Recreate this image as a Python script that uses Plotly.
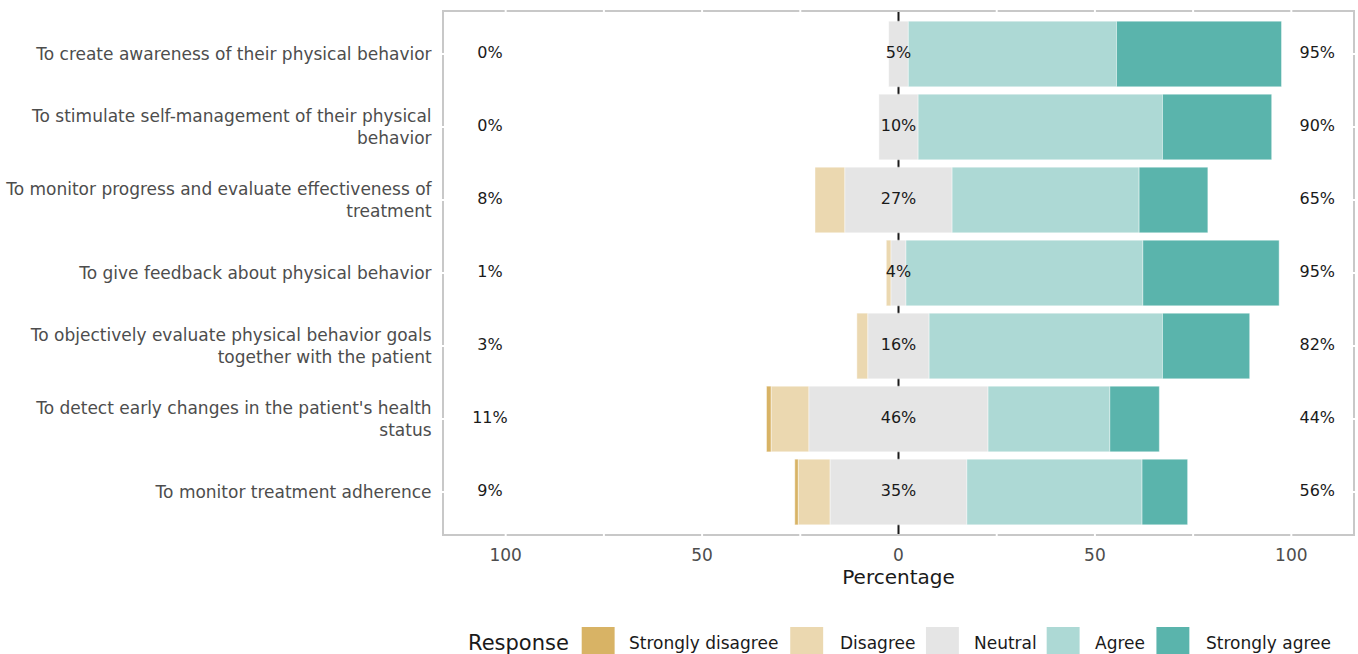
import plotly.graph_objects as go

items = [
    "To create awareness of their physical behavior",
    "To stimulate self-management of their physical<br>behavior",
    "To monitor progress and evaluate effectiveness of<br>treatment",
    "To give feedback about physical behavior",
    "To objectively evaluate physical behavior goals<br>together with the patient",
    "To detect early changes in the patient's health<br>status",
    "To monitor treatment adherence",
]
strongly_disagree = [0, 0, 0, 0, 0, 1.2, 0.9]
disagree = [0, 0, 7.6, 1.2, 2.8, 9.6, 8.1]
neutral = [5, 10, 27.3, 3.8, 15.6, 45.6, 34.8]
agree = [53, 62.2, 47.6, 60.3, 59.4, 31.0, 44.6]
strongly_agree = [42, 27.8, 17.5, 34.7, 22.2, 12.6, 11.6]

responses = ["Strongly disagree", "Disagree", "Neutral", "Agree", "Strongly agree"]
colors = ["#D8B365", "#EBD8B0", "#E5E5E5", "#ADD9D5", "#5AB4AC"]
tick_vals = [-100, -50, 0, 50, 100]
tick_text = ["100", "50", "0", "50", "100"]
grid_x = [-100, -75, -50, -25, 25, 50, 75, 100]

FONT = "DejaVu Sans"

# bases
n_base = [-n / 2 for n in neutral]
d_base = [b - d for b, d in zip(n_base, disagree)]
sd_base = [b - s for b, s in zip(d_base, strongly_disagree)]
a_base = [n / 2 for n in neutral]
sa_base = [b + a for b, a in zip(a_base, agree)]

fig = go.Figure()
series = [
    (strongly_disagree, sd_base, colors[0]),
    (disagree, d_base, colors[1]),
    (neutral, n_base, colors[2]),
    (agree, a_base, colors[3]),
    (strongly_agree, sa_base, colors[4]),
]
for (vals, base, col), name in zip(series, responses):
    fig.add_trace(go.Bar(
        y=items, x=vals, base=base, orientation="h", name=name,
        marker=dict(color=col, line=dict(color="rgba(255,255,255,0.7)", width=0.6)),
        width=0.9, showlegend=False, hoverinfo="skip",
    ))

low = [s + d for s, d in zip(strongly_disagree, disagree)]
high = [a + s for a, s in zip(agree, strongly_agree)]
txt_font = dict(family=FONT, size=16, color="#1A1A1A")
fig.add_trace(go.Scatter(y=items, x=[-104] * len(items), mode="text",
                         text=[f"{round(v)}%" for v in low], textfont=txt_font,
                         showlegend=False, hoverinfo="skip"))
fig.add_trace(go.Scatter(y=items, x=[0] * len(items), mode="text",
                         text=[f"{round(v)}%" for v in neutral], textfont=txt_font,
                         showlegend=False, hoverinfo="skip"))
fig.add_trace(go.Scatter(y=items, x=[106.6] * len(items), mode="text",
                         text=[f"{round(v)}%" for v in high], textfont=txt_font,
                         showlegend=False, hoverinfo="skip"))

# zero line behind bars
fig.add_shape(type="line", xref="x", yref="paper", x0=0, x1=0, y0=0, y1=1,
              line=dict(color="#1A1A1A", width=2), layer="below")

# white grid breaks on the panel border
for gx in grid_x:
    for y0, y1 in [(-0.006, 0.006), (0.994, 1.006)]:
        fig.add_shape(type="line", xref="x", yref="paper", x0=gx, x1=gx, y0=y0, y1=y1,
                      line=dict(color="white", width=2), layer="above")
for it in items:
    for x0, x1 in [(-0.004, 0.004), (0.996, 1.004)]:
        fig.add_shape(type="line", xref="paper", yref="y", x0=x0, x1=x1, y0=it, y1=it,
                      line=dict(color="white", width=2), layer="above")

# custom legend
W, H, L, T = 911, 522, 444, 12
def px(x):
    return (x - L) / W
def py(y):
    return (T + H - y) / H

fig.add_annotation(xref="paper", yref="paper", x=px(466), y=py(643), text="Response",
                   showarrow=False, xanchor="left", yanchor="middle",
                   font=dict(family=FONT, size=21, color="#1A1A1A"))
key_x = [582, 791, 927, 1048, 1158]
lab_x = [627, 839, 973, 1094, 1206]
for i, name in enumerate(responses):
    fig.add_shape(type="rect", xref="paper", yref="paper",
                  x0=px(key_x[i]), x1=px(key_x[i] + 33), y0=py(627), y1=py(662),
                  fillcolor=colors[i], line=dict(width=0))
    fig.add_annotation(xref="paper", yref="paper", x=px(lab_x[i]), y=py(643), text=name,
                       showarrow=False, xanchor="left", yanchor="middle",
                       font=dict(family=FONT, size=17, color="#1A1A1A"))

fig.update_layout(
    width=1358, height=654,
    margin=dict(l=444, r=3, t=12, b=120),
    paper_bgcolor="white", plot_bgcolor="white",
    barmode="overlay", showlegend=False,
    font=dict(family=FONT),
)
fig.update_xaxes(range=[-115.7, 115.7], tickvals=tick_vals, ticktext=tick_text,
                 tickfont=dict(family=FONT, size=17, color="#4D4D4D"),
                 showgrid=False, zeroline=False, showline=True, mirror=True,
                 linecolor="#C8C8C8", linewidth=2, ticks="", ticklabelstandoff=5,
                 title=dict(text="Percentage", font=dict(family=FONT, size=20, color="#1A1A1A"),
                            standoff=6))
fig.update_yaxes(categoryorder="array", categoryarray=items, range=[6.575, -0.575],
                 tickfont=dict(family=FONT, size=17, color="#4D4D4D"),
                 showgrid=False, zeroline=False, showline=True, mirror=True,
                 linecolor="#C8C8C8", linewidth=2, ticks="", ticklabelstandoff=7)

fig.write_html("out.html", post_script="document.body.style.margin='0px';",
               config={"displayModeBar": False})
